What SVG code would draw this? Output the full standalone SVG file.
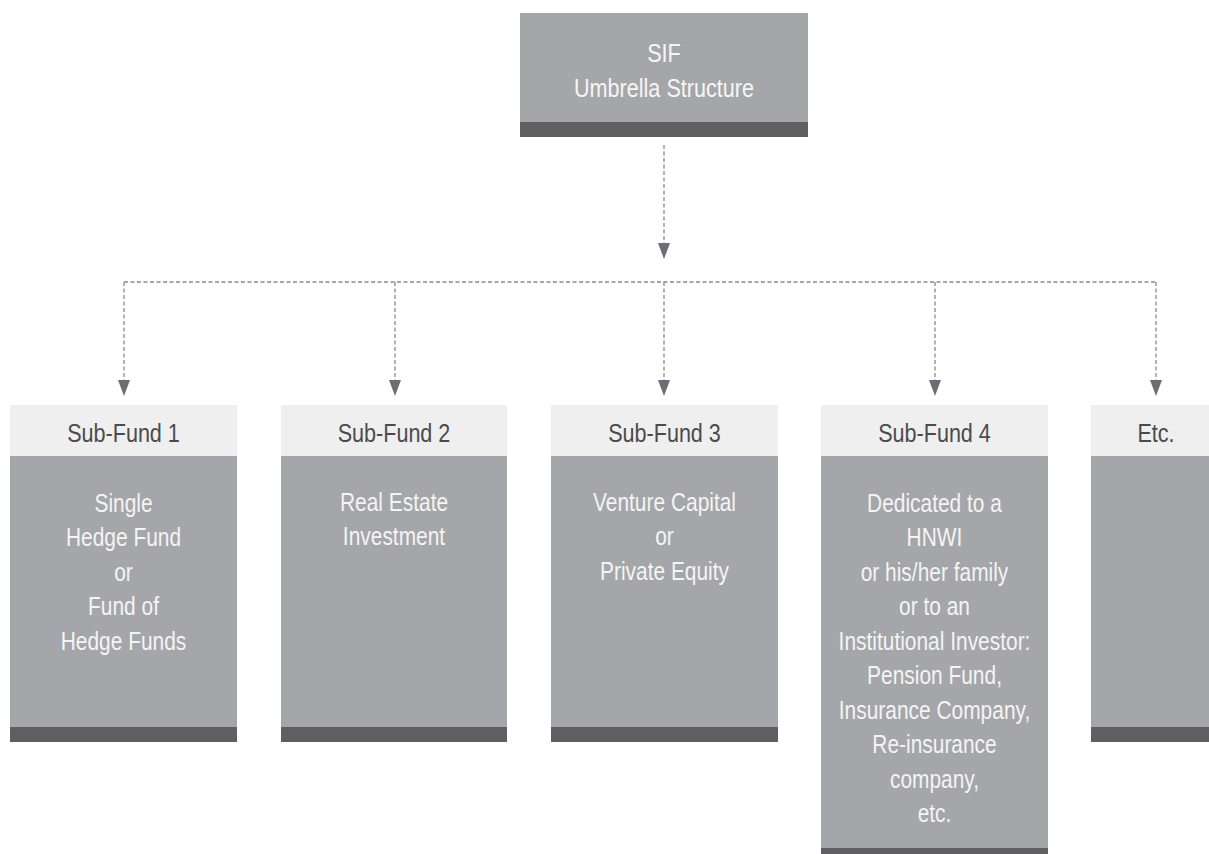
<svg xmlns="http://www.w3.org/2000/svg" width="1209" height="854" viewBox="0 0 1209 854">
<defs>
<style>
.hdr{fill:#efefef}
.body{fill:#a5a6a9}
.band{fill:#5f5f61}
.ht{font-family:"Liberation Sans",Arial,sans-serif;font-size:26px;fill:#4b4b4d;text-anchor:middle}
.bt{font-family:"Liberation Sans",Arial,sans-serif;font-size:25px;fill:#f4f4f4;text-anchor:middle}
.tt{font-family:"Liberation Sans",Arial,sans-serif;font-size:25px;fill:#f6f6f6;text-anchor:middle}
.dash{fill:none;stroke:#8a8a8c;stroke-width:1.3;stroke-dasharray:4 2.5}
.head{fill:#6b6e74}
</style>
</defs>
<rect width="1209" height="854" fill="#ffffff"/>

<g id="connectors">
<path class="dash" d="M664 145 V243"/>
<path class="head" d="M658 243 L670 243 L664 259 Z"/>
<path class="dash" d="M124 282 H1156"/>
<path class="dash" d="M124 282 V380"/>
<path class="dash" d="M395 282 V380"/>
<path class="dash" d="M664 282 V380"/>
<path class="dash" d="M935 282 V380"/>
<path class="dash" d="M1156 282 V380"/>
<path class="head" d="M118 380 L130 380 L124 396 Z"/>
<path class="head" d="M389 380 L401 380 L395 396 Z"/>
<path class="head" d="M658 380 L670 380 L664 396 Z"/>
<path class="head" d="M929 380 L941 380 L935 396 Z"/>
<path class="head" d="M1150 380 L1162 380 L1156 396 Z"/>
</g>

<g id="sif">
<rect class="body" x="520" y="13" width="288" height="109"/>
<rect class="band" x="520" y="122" width="288" height="15"/>
<text class="tt" transform="translate(664 62) scale(0.865 1)"><tspan x="0" y="0">SIF</tspan><tspan x="0" y="35">Umbrella Structure</tspan></text>
</g>

<g id="subfund1">
<rect class="hdr" x="10" y="405" width="227" height="51"/>
<rect class="body" x="10" y="456" width="227" height="271"/>
<rect class="band" x="10" y="727" width="227" height="15"/>
<text class="ht" transform="translate(123.5 442) scale(0.83 1)">Sub-Fund 1</text>
<text class="bt" transform="translate(123.5 512) scale(0.837 1)"><tspan x="0" y="0">Single</tspan><tspan x="0" y="34.5">Hedge Fund</tspan><tspan x="0" y="69">or</tspan><tspan x="0" y="103.5">Fund of</tspan><tspan x="0" y="138">Hedge Funds</tspan></text>
</g>

<g id="subfund2">
<rect class="hdr" x="281" y="405" width="226" height="51"/>
<rect class="body" x="281" y="456" width="226" height="271"/>
<rect class="band" x="281" y="727" width="226" height="15"/>
<text class="ht" transform="translate(394 442) scale(0.83 1)">Sub-Fund 2</text>
<text class="bt" transform="translate(394 511) scale(0.837 1)"><tspan x="0" y="0">Real Estate</tspan><tspan x="0" y="34.5">Investment</tspan></text>
</g>

<g id="subfund3">
<rect class="hdr" x="551" y="405" width="227" height="51"/>
<rect class="body" x="551" y="456" width="227" height="271"/>
<rect class="band" x="551" y="727" width="227" height="15"/>
<text class="ht" transform="translate(664.5 442) scale(0.83 1)">Sub-Fund 3</text>
<text class="bt" transform="translate(664.5 511) scale(0.837 1)"><tspan x="0" y="0">Venture Capital</tspan><tspan x="0" y="34.5">or</tspan><tspan x="0" y="69">Private Equity</tspan></text>
</g>

<g id="subfund4">
<rect class="hdr" x="821" y="405" width="227" height="51"/>
<rect class="body" x="821" y="456" width="227" height="392"/>
<rect class="band" x="821" y="848" width="227" height="15"/>
<text class="ht" transform="translate(934.5 442) scale(0.83 1)">Sub-Fund 4</text>
<text class="bt" transform="translate(934.5 512) scale(0.837 1)"><tspan x="0" y="0">Dedicated to a</tspan><tspan x="0" y="34.5">HNWI</tspan><tspan x="0" y="69">or his/her family</tspan><tspan x="0" y="103.5">or to an</tspan><tspan x="0" y="138">Institutional Investor:</tspan><tspan x="0" y="172.5">Pension Fund,</tspan><tspan x="0" y="207">Insurance Company,</tspan><tspan x="0" y="241.5">Re-insurance</tspan><tspan x="0" y="276">company,</tspan><tspan x="0" y="310.5">etc.</tspan></text>
</g>

<g id="etc">
<rect class="hdr" x="1091" y="405" width="130" height="51"/>
<rect class="body" x="1091" y="456" width="130" height="271"/>
<rect class="band" x="1091" y="727" width="130" height="15"/>
<text class="ht" transform="translate(1156 442) scale(0.83 1)">Etc.</text>
</g>
</svg>
